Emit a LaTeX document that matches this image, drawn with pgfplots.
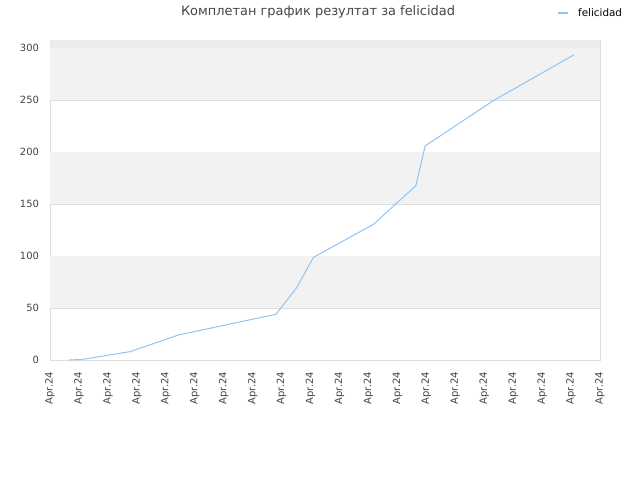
\documentclass[border=0pt]{standalone}
\usepackage{fontspec}
\setmainfont{DejaVu Sans}
\usepackage{pgfplots}
\pgfplotsset{compat=1.18}
\definecolor{lineblue}{RGB}{144,195,245}
\definecolor{band}{RGB}{242,242,242}
\definecolor{topband}{RGB}{236,236,236}
\definecolor{gridc}{RGB}{221,221,221}
\definecolor{txt}{RGB}{68,68,68}
\begin{document}
\begin{tikzpicture}[x=1bp,y=1bp]
\begin{axis}[
  scale only axis,
  width=550bp, height=320bp,
  xmin=0, xmax=19, ymin=0, ymax=307.7,
  xtick={0,...,19},
  xticklabels={Apr.24,Apr.24,Apr.24,Apr.24,Apr.24,Apr.24,Apr.24,Apr.24,Apr.24,Apr.24,Apr.24,Apr.24,Apr.24,Apr.24,Apr.24,Apr.24,Apr.24,Apr.24,Apr.24,Apr.24},
  x tick label style={rotate=90, anchor=east, font=\fontsize{10}{12}\selectfont, text=txt, xshift=-8.5bp},
  ytick={0,50,...,300},
  y tick label style={font=\fontsize{10}{12}\selectfont, text=txt, xshift=-7.5bp},
  /pgf/number format/assume math mode=true,
  major tick length=0pt,
  ymajorgrids, grid style={gridc, line width=0.8bp},
  axis line style={gridc, line width=0.8bp},
  clip=false,
]
\fill[topband] (axis cs:0,300) rectangle (axis cs:19,307.7);
\fill[band] (axis cs:0,250) rectangle (axis cs:19,300);
\fill[band] (axis cs:0,150) rectangle (axis cs:19,200);
\fill[band] (axis cs:0,50) rectangle (axis cs:19,100);
\addplot[lineblue, line width=1bp] coordinates {
(0.66,0) (1.12,0.6) (2.76,8) (4.43,24) (7.81,44) (8.52,69.5) (9.10,98.7)
(11.17,130.4) (12.64,167.6) (12.96,205.8) (15.31,249.3) (18.11,293.6)
};
\end{axis}
\node[text=txt, font=\fontsize{13}{15}\selectfont] at (268bp,347.7bp) {Комплетан график резултат за felicidad};
\draw[lineblue, line width=2bp] (508bp,346.7bp) -- (518bp,346.7bp);
\node[anchor=west, text=black, font=\fontsize{10.4}{12}\selectfont, inner sep=0pt] at (528bp,347.5bp) {felicidad};
\pgfresetboundingbox
\path[use as bounding box] (-50bp,-120bp) rectangle (590bp,360bp);
\end{tikzpicture}
\end{document}
